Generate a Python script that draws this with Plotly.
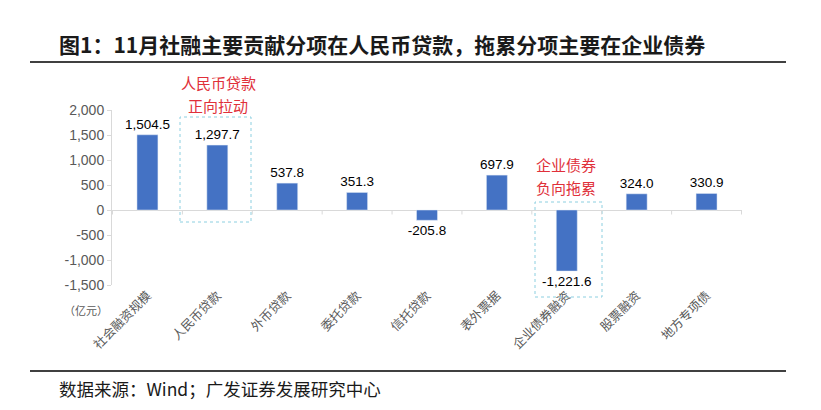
import plotly.graph_objects as go

categories = ["社会融资规模", "人民币贷款", "外币贷款", "委托贷款", "信托贷款",
              "表外票据", "企业债券融资", "股票融资", "地方专项债"]
values = [1504.5, 1297.7, 537.8, 351.3, -205.8, 697.9, -1221.6, 324.0, 330.9]
value_labels = ["1,504.5", "1,297.7", "537.8", "351.3", "-205.8", "697.9", "-1,221.6", "324.0", "330.9"]
y_ticks = [-1500, -1000, -500, 0, 500, 1000, 1500, 2000]
y_tick_labels = ["-1,500", "-1,000", "-500", "0", "500", "1,000", "1,500", "2,000"]

# page body has an 8px margin; work in reference-pixel coordinates and shift
OFF = 8
W, H = 821 - 2 * OFF, 410 - 2 * OFF
PL, PR, PT, PB = 112 - OFF, 742 - OFF, 110 - OFF, 285 - OFF
L, R, T, B = PL, W - PR, PT, H - PB
PW, PH = PR - PL, PB - PT

def px_x(px):
    return (px - OFF - PL) / PW

def px_y(py):
    return (PB - (py - OFF)) / PH

fig = go.Figure()
fig.add_trace(go.Bar(
    x=categories, y=values, text=value_labels, textposition="outside",
    constraintext="none",
    textfont=dict(family="Liberation Sans, Arial", size=13.5, color="#000000"),
    marker=dict(color="#4472C4"), width=0.3, cliponaxis=False,
    hoverinfo="x+y",
))

fig.update_layout(
    width=W, height=H, margin=dict(l=L, r=R, t=T, b=B),
    paper_bgcolor="white", plot_bgcolor="white", showlegend=False,
    xaxis=dict(
        type="category", showgrid=False, showline=False, ticks="",
        tickangle=-45, tickfont=dict(family="Noto Sans CJK SC", size=12.5, color="#595959"),
        zeroline=False,
    ),
    yaxis=dict(
        range=[-1500, 2000], tickvals=y_ticks, ticktext=y_tick_labels,
        showgrid=False, showline=True, linecolor="#D9D9D9", linewidth=1,
        ticks="outside", ticklen=4, tickcolor="#D9D9D9",
        tickfont=dict(family="Liberation Sans, Arial", size=14, color="#595959"),
        zeroline=True, zerolinecolor="#D9D9D9", zerolinewidth=1,
    ),
    font=dict(family="Noto Sans CJK SC"),
)

shapes = []
shapes.append(dict(type="line", xref="paper", yref="paper", x0=px_x(30), x1=px_x(786),
                   y0=px_y(62), y1=px_y(62), line=dict(color="#000000", width=1.5)))
shapes.append(dict(type="line", xref="paper", yref="paper", x0=px_x(30), x1=px_x(786),
                   y0=px_y(371), y1=px_y(371), line=dict(color="#000000", width=1.5)))
shapes.append(dict(type="rect", xref="paper", yref="paper", x0=px_x(180), x1=px_x(251),
                   y0=px_y(222), y1=px_y(117), line=dict(color="#8CCFE0", width=1, dash="dot")))
shapes.append(dict(type="rect", xref="paper", yref="paper", x0=px_x(535), x1=px_x(602),
                   y0=px_y(297), y1=px_y(202), line=dict(color="#8CCFE0", width=1, dash="dot")))
for i in range(len(categories) + 1):
    shapes.append(dict(type="line", xref="x", yref="y", x0=i - 0.5, x1=i - 0.5,
                       y0=0, y1=-90, line=dict(color="#D9D9D9", width=1)))
fig.update_layout(shapes=shapes)

red = dict(family="Noto Sans CJK SC", size=15, color="#E0303A")
annotations = [
    dict(text="<b>图1：11月社融主要贡献分项在人民币贷款，拖累分项主要在企业债券</b>",
         xref="paper", yref="paper", x=px_x(57), y=px_y(44), xanchor="left", yanchor="middle",
         showarrow=False, font=dict(family="Noto Sans CJK SC", size=21, color="#1a1a1a")),
    dict(text="数据来源：Wind；广发证券发展研究中心",
         xref="paper", yref="paper", x=px_x(57), y=px_y(388), xanchor="left", yanchor="middle",
         showarrow=False, font=dict(family="Noto Sans CJK SC", size=17.5, color="#1a1a1a")),
    dict(text="（亿元）", xref="paper", yref="paper", x=px_x(110), y=px_y(310),
         xanchor="right", yanchor="middle", showarrow=False,
         font=dict(family="Noto Sans CJK SC", size=11, color="#595959")),
    dict(text="人民币贷款", xref="paper", yref="paper", x=px_x(218), y=px_y(82),
         xanchor="center", yanchor="middle", showarrow=False, font=red),
    dict(text="正向拉动", xref="paper", yref="paper", x=px_x(218), y=px_y(105),
         xanchor="center", yanchor="middle", showarrow=False, font=red),
    dict(text="企业债券", xref="paper", yref="paper", x=px_x(566), y=px_y(164),
         xanchor="center", yanchor="middle", showarrow=False, font=red),
    dict(text="负向拖累", xref="paper", yref="paper", x=px_x(566), y=px_y(187),
         xanchor="center", yanchor="middle", showarrow=False, font=red),
]
fig.update_layout(annotations=annotations)

fig.write_html("out.html")
